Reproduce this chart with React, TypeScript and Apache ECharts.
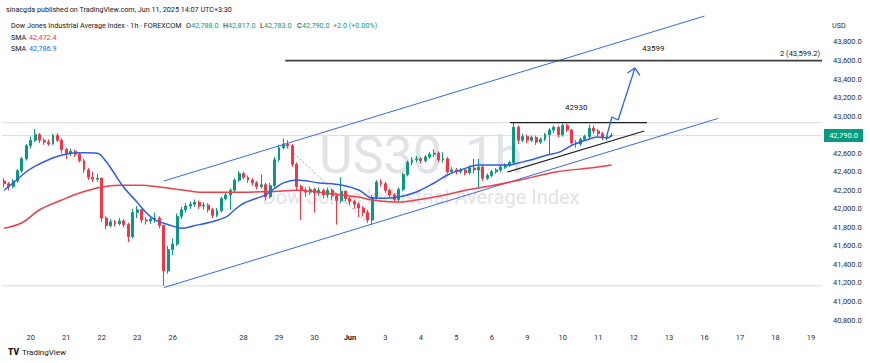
import React, { useEffect, useRef } from "react";
import * as echarts from "echarts";

// ---------- data ----------
const dayLabels = ["20", "21", "22", "23", "26", "", "28", "29", "30", "Jun", "3", "4", "5", "6", "9", "10", "11", "12", "13", "16", "17", "18", "19"];
const SLOTS = 185;
const FIRST_DAY_SLOT = 6;
const SLOTS_PER_DAY = 8;

// [open, close, low, high]
const candles: number[][] = [
  [42300, 42270, 42230, 42330], [42270, 42240, 42200, 42290], [42240, 42300, 42220, 42320], [42300, 42410, 42280, 42430],
  [42410, 42540, 42390, 42560], [42540, 42680, 42520, 42700], [42680, 42740, 42650, 42780], [42740, 42800, 42720, 42860],
  [42800, 42740, 42710, 42820], [42740, 42720, 42690, 42760], [42720, 42700, 42680, 42750], [42700, 42790, 42690, 42810],
  [42790, 42740, 42720, 42820], [42740, 42640, 42600, 42760], [42640, 42600, 42540, 42660], [42600, 42620, 42570, 42650],
  [42620, 42590, 42560, 42640], [42590, 42520, 42500, 42610], [42520, 42420, 42390, 42540], [42420, 42340, 42310, 42440],
  [42340, 42320, 42290, 42400], [42320, 42330, 42290, 42380], [42330, 41900, 41860, 42340], [41900, 41820, 41780, 41920],
  [41820, 41860, 41800, 41890], [41860, 41840, 41810, 41880], [41840, 41870, 41820, 41900], [41870, 41830, 41800, 41890],
  [41830, 41700, 41640, 41850], [41700, 41960, 41680, 42000], [41960, 41990, 41900, 42030], [41990, 41880, 41850, 42000],
  [41880, 41870, 41830, 41910], [41870, 41890, 41840, 41920], [41890, 41900, 41850, 41960], [41900, 41820, 41790, 41920],
  [41820, 41330, 41170, 41830], [41330, 41560, 41300, 41600], [41560, 41620, 41500, 41680], [41620, 41920, 41600, 41950],
  [41920, 41990, 41890, 42020], [41990, 42030, 41960, 42060], [42030, 42050, 42000, 42080], [42050, 42070, 42020, 42100],
  [42070, 42030, 42000, 42090], [42030, 42040, 41990, 42070], [42040, 41990, 41960, 42060], [41990, 41930, 41900, 42010],
  [41930, 41980, 41910, 42010], [41980, 42110, 41960, 42130], [42110, 42150, 42090, 42180], [42150, 42200, 41990, 42220],
  [42200, 42310, 42180, 42330], [42310, 42380, 42290, 42410], [42380, 42340, 42320, 42400], [42340, 42310, 42280, 42360],
  [42310, 42280, 42250, 42330], [42280, 42240, 42210, 42300], [42240, 42260, 42220, 42370], [42260, 42130, 42090, 42280],
  [42130, 42250, 42110, 42280], [42250, 42530, 42230, 42560], [42530, 42660, 42510, 42690], [42660, 42700, 42640, 42760],
  [42700, 42680, 42650, 42740], [42680, 42480, 42450, 42700], [42480, 42240, 42200, 42500], [42240, 42200, 41880, 42260],
  [42200, 42180, 42130, 42230], [42180, 42210, 42150, 42240], [42210, 42170, 41960, 42230], [42170, 42200, 42140, 42230],
  [42200, 42150, 42110, 42220], [42150, 42200, 42120, 42230], [42200, 42140, 42100, 42220], [42140, 42090, 41830, 42170],
  [42090, 42190, 42060, 42340], [42190, 42110, 42080, 42200], [42110, 42080, 42040, 42130], [42080, 42050, 42000, 42100],
  [42050, 42010, 41910, 42070], [42010, 41960, 41920, 42030], [41960, 41880, 41850, 41990], [41880, 42120, 41830, 42150],
  [42120, 42290, 42100, 42310], [42290, 42270, 42240, 42320], [42270, 42200, 42170, 42290], [42200, 42150, 42120, 42220],
  [42150, 42100, 42070, 42170], [42100, 42210, 42080, 42230], [42210, 42370, 42190, 42390], [42370, 42500, 42350, 42520],
  [42500, 42530, 42470, 42560], [42530, 42540, 42500, 42570], [42540, 42520, 42490, 42560], [42520, 42560, 42500, 42580],
  [42560, 42590, 42540, 42610], [42590, 42600, 42560, 42640], [42600, 42530, 42500, 42620], [42530, 42540, 42500, 42610],
  [42540, 42400, 42380, 42560], [42400, 42420, 42380, 42450], [42420, 42400, 42370, 42440], [42400, 42420, 42380, 42440],
  [42420, 42390, 42360, 42430], [42390, 42440, 42370, 42470], [42440, 42420, 42380, 42540], [42420, 42450, 42230, 42540],
  [42450, 42330, 42300, 42470], [42330, 42360, 42310, 42380], [42360, 42400, 42340, 42420], [42400, 42420, 42380, 42440],
  [42420, 42450, 42400, 42470], [42450, 42470, 42430, 42490], [42470, 42500, 42450, 42520], [42500, 42880, 42480, 42930],
  [42880, 42740, 42700, 42900], [42740, 42780, 42720, 42810], [42780, 42740, 42710, 42800], [42740, 42770, 42720, 42790],
  [42770, 42720, 42690, 42790], [42720, 42750, 42700, 42770], [42750, 42800, 42730, 42820], [42800, 42850, 42580, 42870],
  [42850, 42880, 42820, 42900], [42880, 42800, 42770, 42890], [42800, 42900, 42780, 42920], [42900, 42850, 42830, 42920],
  [42850, 42710, 42680, 42860], [42710, 42700, 42660, 42740], [42700, 42750, 42680, 42770], [42750, 42780, 42730, 42800],
  [42780, 42870, 42760, 42910], [42870, 42840, 42810, 42900], [42840, 42810, 42780, 42860], [42810, 42770, 42740, 42830],
  [42770, 42788, 42740, 42800], [42788, 42790, 42783, 42817],
];

// SMA readings: [slot, value]
const smaFast: number[][] = [
  [0, 42200], [2, 42280], [5, 42400], [7, 42460], [10, 42530], [13, 42580], [15, 42600], [18, 42605], [21, 42600],
  [23, 42510], [25, 42370], [27, 42230], [30, 42070], [32, 41960], [34, 41880], [36, 41845], [39, 41800], [40, 41790],
  [43, 41820], [46, 41850], [50, 41910], [52, 41990], [54, 42060], [57, 42115], [59, 42150], [61, 42220], [63, 42280],
  [66, 42310], [71, 42280], [76, 42257], [80, 42203], [83, 42117], [86, 42115], [89, 42127], [93, 42181], [97, 42279],
  [100, 42365], [103, 42419], [107, 42473], [111, 42473], [114, 42473], [116, 42495], [119, 42530], [122.5, 42580],
  [125.4, 42615], [128.3, 42690], [131.5, 42745], [133.8, 42775], [136, 42765], [137, 42787],
];
const smaSlow: number[][] = [
  [0, 41790], [4, 41850], [8, 41990], [13, 42095], [17, 42170], [22, 42235], [26, 42255], [31, 42255], [35, 42235],
  [40, 42205], [44, 42180], [53, 42180], [62, 42190], [66, 42200], [71, 42180], [76, 42150], [80, 42127], [83, 42095],
  [89, 42073], [93, 42095], [98.3, 42138], [104.4, 42203], [109.6, 42246], [116.4, 42311], [124.7, 42400],
  [132.2, 42440], [137, 42472],
];

// drawings
const upperChannel = [[36, 42300], [158, 44080]];
const lowerChannel = [[36, 41150], [161, 42975]];
const targetLine = [[63.4, 43599.2], [184.5, 43599.2]];
const resistance = [[114.1, 42930], [145, 42930]];
const support = [[113.5, 42397], [144.4, 42840]];
const projection = [[136, 42797], [137.1, 42991], [138.5, 42958], [142.3, 43519]];
const arrowHead = [[140.6, 43465], [142.3, 43519], [143.4, 43439]];
const dashedLeg = [[63.4, 42689], [82.5, 41826]];
const levels = [42930, 42790, 41170];

// ---------- chart ----------
const FONT = "Roboto, 'Noto Sans', sans-serif";
const UP = "#089981";
const DOWN = "#f23645";

const categories = Array.from({ length: SLOTS }, (_, i) => String(i));
const labelAt: Record<number, string> = {};
dayLabels.forEach((d, k) => {
  labelAt[FIRST_DAY_SLOT + k * SLOTS_PER_DAY] = d;
});

const fmtPrice = (v: number) => {
  const [a, b] = v.toFixed(1).split(".");
  return a.replace(/\B(?=(\d{3})+(?!\d))/g, ",") + "." + b;
};

const lineSeries = (data: number[][], color: string, width: number, extra: any = {}) => ({
  type: "line",
  xAxisIndex: 1,
  yAxisIndex: 0,
  data,
  showSymbol: false,
  symbol: "none",
  silent: true,
  lineStyle: { color, width, ...(extra.lineStyle || {}) },
  z: extra.z ?? 4,
  smooth: extra.smooth ?? false,
});

const txt = (x: number, y: number, text: string, fill: string, size: number, align = "left", weight = "normal", z = 100) => ({
  type: "text",
  x,
  y,
  z,
  silent: true,
  style: {
    text,
    fill,
    font: `${weight} ${size}px ${FONT}`,
    lineHeight: size,
    align,
    verticalAlign: "middle",
    textAlign: align,
    textVerticalAlign: "middle",
  },
});

const option: any = {
  animation: false,
  backgroundColor: "#ffffff",
  grid: { left: 2, right: 48, top: 4.92, bottom: 24.4, containLabel: false },
  xAxis: [
    {
      type: "category",
      data: categories,
      boundaryGap: true,
      offset: -8,
      axisLine: { show: false },
      axisTick: { show: false },
      splitLine: { show: false },
      axisLabel: {
        interval: (i: number) => labelAt[i] !== undefined && labelAt[i] !== "",
        formatter: (v: string) => {
          const l = labelAt[Number(v)] ?? "";
          return l === "Jun" ? "{b|Jun}" : l;
        },
        margin: 3,
        fontSize: 7.5,
        color: "#2a2e39",
        fontFamily: FONT,
        rich: { b: { fontWeight: "bold", fontSize: 7.5, color: "#131722", fontFamily: FONT } },
      },
    },
    { type: "value", min: -0.5, max: SLOTS - 0.5, show: false },
  ],
  yAxis: {
    type: "value",
    position: "right",
    min: 40600,
    max: 44200,
    interval: 200,
    axisLine: { show: false },
    axisTick: { show: false },
    splitLine: { show: false },
    axisLabel: {
      margin: 11,
      fontSize: 7.5,
      color: "#2a2e39",
      fontFamily: FONT,
      formatter: (v: number) => (v < 40800 || v > 43800 || v === 42800 ? "" : fmtPrice(v)),
    },
  },
  series: [
    ...levels.map((lv) => lineSeries([[-0.5, lv], [SLOTS - 0.5, lv]], "#d9dbe6", 1, { z: 1 })),
    {
      type: "candlestick",
      xAxisIndex: 0,
      yAxisIndex: 0,
      data: candles,
      barWidth: "55%",
      silent: true,
      z: 3,
      itemStyle: { color: UP, color0: DOWN, borderColor: UP, borderColor0: DOWN, borderWidth: 1 },
    },
    lineSeries(smaSlow, "#e8414b", 1.5, { smooth: 0.35, z: 5 }),
    lineSeries(smaFast, "#2f5ce6", 1.5, { smooth: 0.35, z: 5 }),
    lineSeries(upperChannel, "#3b68e8", 1),
    lineSeries(lowerChannel, "#3b68e8", 1),
    lineSeries(targetLine, "#3d3f47", 1.8),
    lineSeries(resistance, "#1c1c1c", 1.2),
    lineSeries(support, "#1c1c1c", 1.2),
    lineSeries(dashedLeg, "#8c8f99", 0.8, { lineStyle: { type: [2, 2] } }),
    lineSeries(projection, "#2f62ef", 1.3, { z: 6 }),
    lineSeries(arrowHead, "#2f62ef", 1.3, { z: 6 }),
  ],
  graphic: [
    txt(421, 155.5, "US30, 1h", "#e2e3e8", 52, "center", "normal", -10),
    txt(421, 196.5, "Dow Jones Industrial Average Index", "#e2e3e8", 20, "center", "normal", -10),
    // header
    txt(6, 9, "sinacgda published on TradingView.com, Jun 11, 2025 14:07 UTC+3:30", "#131722", 7.2),
    txt(11, 25.5, "Dow Jones Industrial Average Index · 1h · FOREXCOM", "#131722", 7.2),
    txt(186, 25.5, "O", "#131722", 7.2),
    txt(191, 25.5, "42,788.0", UP, 7.2),
    txt(223, 25.5, "H", "#131722", 7.2),
    txt(228, 25.5, "42,817.0", UP, 7.2),
    txt(260, 25.5, "L", "#131722", 7.2),
    txt(264, 25.5, "42,783.0", UP, 7.2),
    txt(297, 25.5, "C", "#131722", 7.2),
    txt(302, 25.5, "42,790.0", UP, 7.2),
    txt(333, 25.5, "+2.0 (+0.00%)", UP, 7.2),
    txt(11, 37, "SMA", "#131722", 7.2),
    txt(29, 37, "42,472.4", DOWN, 7.2),
    txt(11, 48, "SMA", "#131722", 7.2),
    txt(29, 48, "42,786.9", "#2962ff", 7.2),
    // annotations
    txt(642, 48, "43599", "#131722", 8),
    txt(820, 53, "2 (43,599.2)", "#131722", 7.5, "right"),
    txt(565, 107, "42930", "#131722", 8),
    // axis extras
    txt(832, 25, "USD", "#2a2e39", 7.2),
    {
      type: "rect",
      z: 100,
      silent: true,
      shape: { x: 824, y: 129, width: 39, height: 13 },
      style: { fill: UP },
    },
    txt(843.5, 135.6, "42,790.0", "#ffffff", 7.5, "center", "normal", 101),
    // footer logo
    txt(8, 352, "TV", "#131722", 8.5, "left", "900"),
    txt(22, 352, "TradingView", "#131722", 8),
  ],
};

export default function App() {
  const ref = useRef<HTMLDivElement>(null);
  useEffect(() => {
    const chart = echarts.init(ref.current!, null, { renderer: "svg" });
    chart.setOption(option);
    return () => chart.dispose();
  }, []);
  return (
    <div
      ref={ref}
      style={{ position: "fixed", left: 0, top: 0, width: 870, height: 363, background: "#ffffff" }}
    />
  );
}
